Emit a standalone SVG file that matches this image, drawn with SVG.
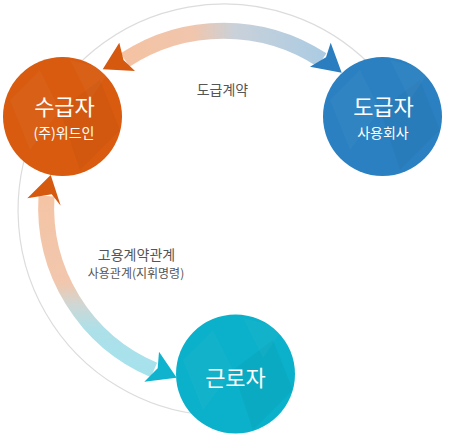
<svg xmlns="http://www.w3.org/2000/svg" width="454" height="446" viewBox="0 0 454 446">
<defs>
<style>
.ring{fill:none;stroke:#dcdcdc;stroke-width:1.2}
.band{fill:none;stroke-width:16}
.t1{font-family:"Noto Sans CJK KR","Noto Sans",sans-serif;fill:#fff;text-anchor:middle;font-size:22px}
.t2{font-family:"Noto Sans CJK KR","Noto Sans",sans-serif;fill:#fff;text-anchor:middle;font-size:14px}
.lab{font-family:"Noto Sans CJK KR","Noto Sans",sans-serif;fill:#555;text-anchor:middle;font-size:14px}
.lab2{font-family:"Noto Sans CJK KR","Noto Sans",sans-serif;fill:#555;text-anchor:middle;font-size:12px}
.tex{fill:#fff;opacity:0.035}
.tex2{fill:#000;opacity:0.03}
</style>
<linearGradient id="gTop" gradientUnits="userSpaceOnUse" x1="120" y1="0" x2="330" y2="0">
<stop offset="0" stop-color="#f5c2a2"/>
<stop offset="0.35" stop-color="#f0c6ad"/>
<stop offset="0.55" stop-color="#c9d1da"/>
<stop offset="1" stop-color="#a9cbe3"/>
</linearGradient>
<linearGradient id="gLeft" gradientUnits="userSpaceOnUse" x1="0" y1="195" x2="0" y2="372">
<stop offset="0" stop-color="#f5c4a5"/>
<stop offset="0.5" stop-color="#f1c7ad"/>
<stop offset="0.62" stop-color="#cfd7d4"/>
<stop offset="0.76" stop-color="#ade0e9"/>
<stop offset="1" stop-color="#a6e2ec"/>
</linearGradient>
</defs>
<rect width="454" height="446" fill="#fff"/>
<path class="ring" d="M 206 415.2 A 206 206 0 1 1 369.7 64.3"/>
<g id="connectors">
<path class="band" stroke="url(#gTop)" d="M 125 60 A 180 180 0 0 1 322 60"/>
<polygon fill="#d55a10" points="102.7,69.3 119.3,42.7 123.5,60 135,71"/>
<polygon fill="#2a7dbf" points="341.7,72.7 330.7,42.7 326,57.3 310,66.7"/>
<path class="band" stroke="url(#gLeft)" d="M 46.5 196 A 177 177 0 0 0 154 370"/>
<polygon fill="#d55a10" points="50.7,175 27.3,198.3 51.7,194.3 60.7,205.7"/>
<polygon fill="#10b3cd" points="176.7,377.7 159,351.7 157.7,368.3 144.3,381.7"/>
</g>
<g id="sugupja">
<circle cx="62.5" cy="116.5" r="59.5" fill="#d85b0f"/>
<polygon class="tex" points="10,100 40,70 60,110 30,150"/>
<polygon class="tex2" points="60,110 100,80 120,130 80,170"/>
<polygon class="tex" points="70,60 110,70 90,100"/>
<text class="t1" x="64.5" y="115">수급자</text>
<text class="t2" x="64" y="138">(주)위드인</text>
</g>
<g id="dogupja">
<circle cx="382.5" cy="116.5" r="59.5" fill="#2a80c0"/>
<polygon class="tex" points="330,100 360,70 380,110 350,150"/>
<polygon class="tex2" points="380,110 420,80 440,130 400,170"/>
<polygon class="tex" points="390,60 430,70 410,100"/>
<text class="t1" x="383.5" y="115">도급자</text>
<text class="t2" x="383" y="138">사용회사</text>
</g>
<g id="geunroja">
<circle cx="235.5" cy="374" r="59.5" fill="#0bb0ca"/>
<polygon class="tex" points="183,360 213,330 233,370 203,410"/>
<polygon class="tex2" points="233,370 273,340 293,390 253,430"/>
<polygon class="tex" points="243,318 283,328 263,358"/>
<text class="t1" x="235.5" y="386">근로자</text>
</g>
<g id="labels">
<text class="lab" x="222.5" y="95">도급계약</text>
<text class="lab" x="136.5" y="260">고용계약관계</text>
<text class="lab2" x="136" y="278">사용관계(지휘명령)</text>
</g>
</svg>
